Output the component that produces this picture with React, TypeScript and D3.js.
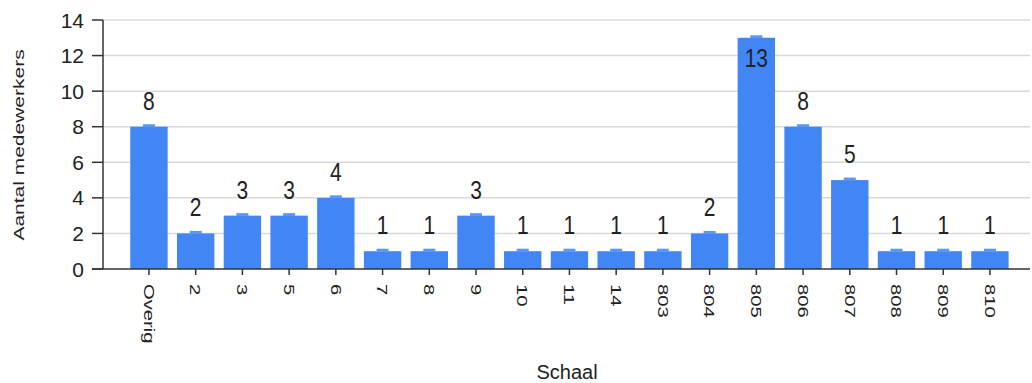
import React, { useEffect, useRef } from "react";
import * as d3 from "d3";

// Data
const categories = ["Overig", "2", "3", "5", "6", "7", "8", "9", "10", "11", "14", "803", "804", "805", "806", "807", "808", "809", "810"];
const counts = [8, 2, 3, 3, 4, 1, 1, 3, 1, 1, 1, 1, 2, 13, 8, 5, 1, 1, 1];
const yTicks = [0, 2, 4, 6, 8, 10, 12, 14];

// Dimensions
const W = 1032;
const H = 383;
const plot = { left: 103, right: 1030, top: 20, bottom: 269 };
const font = "'Liberation Sans', Arial, sans-serif";
const barColour = "#4285f4";
const textColour = "#222";

const App = () => {
  const ref = useRef<SVGSVGElement | null>(null);

  useEffect(() => {
    if (!ref.current) return;
    const svg = d3.select(ref.current);
    svg.selectAll("*").remove();

    const x = d3
      .scaleBand<string>()
      .domain(categories)
      .range([125.6, 1013.3])
      .paddingInner(0.2)
      .paddingOuter(0.1);

    const y = d3.scaleLinear().domain([0, 14]).range([plot.bottom, plot.top]);

    // gridlines
    svg
      .append("g")
      .selectAll("line")
      .data(yTicks.filter((t) => t > 0))
      .join("line")
      .attr("x1", plot.left)
      .attr("x2", plot.right)
      .attr("y1", (d) => y(d))
      .attr("y2", (d) => y(d))
      .attr("stroke", "#d9d9d9")
      .attr("stroke-width", 1.5);

    // bars
    const bars = svg.append("g");
    bars
      .selectAll("rect.bar")
      .data(categories)
      .join("rect")
      .attr("class", "bar")
      .attr("x", (d) => x(d)!)
      .attr("width", x.bandwidth())
      .attr("y", (d, i) => y(counts[i]))
      .attr("height", (d, i) => plot.bottom - y(counts[i]))
      .attr("fill", barColour);

    // little cap on top of each bar
    bars
      .selectAll("rect.cap")
      .data(categories)
      .join("rect")
      .attr("class", "cap")
      .attr("x", (d) => x(d)! + x.bandwidth() / 2 - 6)
      .attr("width", 12)
      .attr("y", (d, i) => y(counts[i]) - 2.5)
      .attr("height", 3)
      .attr("fill", "#5b97f5");

    // value labels
    svg
      .append("g")
      .selectAll("text")
      .data(categories)
      .join("text")
      .attr("transform", (d, i) => {
        const top = y(counts[i]);
        const ty = top - 40 < plot.top ? top + 29 : top - 17;
        return `translate(${x(d)! + x.bandwidth() / 2},${ty}) scale(1,1.2)`;
      })
      .attr("text-anchor", "middle")
      .style("font-family", font)
      .style("font-size", "21px")
      .attr("fill", textColour)
      .text((d, i) => counts[i]);

    // Y axis
    const yAxis = svg.append("g");
    yAxis
      .append("line")
      .attr("x1", plot.left)
      .attr("x2", plot.left)
      .attr("y1", plot.top)
      .attr("y2", plot.bottom)
      .attr("stroke", "#333")
      .attr("stroke-width", 1.5);
    yAxis
      .selectAll("line.tick")
      .data(yTicks)
      .join("line")
      .attr("class", "tick")
      .attr("x1", 92)
      .attr("x2", plot.left)
      .attr("y1", (d) => y(d))
      .attr("y2", (d) => y(d))
      .attr("stroke", "#333")
      .attr("stroke-width", 1.5);
    yAxis
      .selectAll("text")
      .data(yTicks)
      .join("text")
      .attr("x", 84)
      .attr("y", (d) => y(d))
      .attr("dy", "0.36em")
      .attr("text-anchor", "end")
      .style("font-family", font)
      .style("font-size", "21px")
      .attr("fill", textColour)
      .text((d) => d);

    // X axis
    const xAxis = svg.append("g");
    xAxis
      .append("line")
      .attr("x1", 92)
      .attr("x2", plot.right)
      .attr("y1", plot.bottom)
      .attr("y2", plot.bottom)
      .attr("stroke", "#333")
      .attr("stroke-width", 1.5);
    xAxis
      .selectAll("line.tick")
      .data(categories)
      .join("line")
      .attr("class", "tick")
      .attr("x1", (d) => x(d)! + x.bandwidth() / 2)
      .attr("x2", (d) => x(d)! + x.bandwidth() / 2)
      .attr("y1", plot.bottom)
      .attr("y2", plot.bottom + 6)
      .attr("stroke", "#333")
      .attr("stroke-width", 1.5);
    xAxis
      .selectAll("text")
      .data(categories)
      .join("text")
      .attr(
        "transform",
        (d) => `translate(${x(d)! + x.bandwidth() / 2},284) rotate(90) scale(1.35,1)`
      )
      .attr("dy", "0.35em")
      .attr("text-anchor", "start")
      .style("font-family", font)
      .style("font-size", "15px")
      .attr("fill", textColour)
      .text((d) => d);

    // Axis titles
    svg
      .append("text")
      .attr("x", 567)
      .attr("y", 379)
      .attr("text-anchor", "middle")
      .style("font-family", font)
      .style("font-size", "20px")
      .attr("fill", textColour)
      .text("Schaal");

    svg
      .append("text")
      .attr("transform", "translate(24,145) rotate(-90) scale(1.5,1)")
      .attr("text-anchor", "middle")
      .style("font-family", font)
      .style("font-size", "14px")
      .attr("fill", textColour)
      .text("Aantal medewerkers");
  }, []);

  return (
    <svg
      ref={ref}
      width={W}
      height={H}
      style={{ position: "fixed", left: 0, top: 0, background: "#fff" }}
    />
  );
};

export default App;
